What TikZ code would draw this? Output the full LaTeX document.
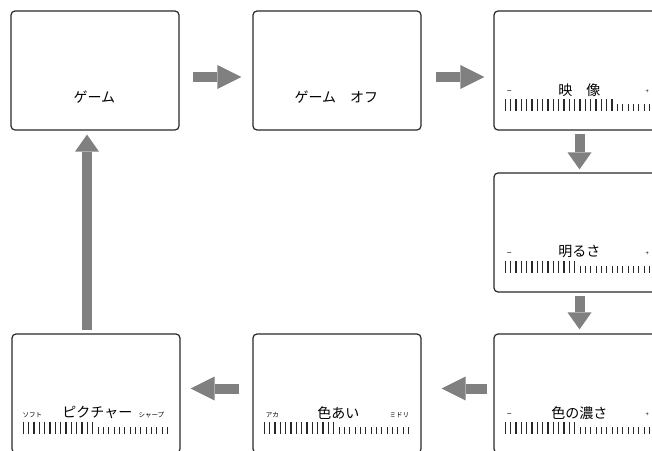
\documentclass[tikz,border=0pt]{standalone}
\usepackage{fontspec}
\setmainfont{Noto Sans CJK JP}
\usetikzlibrary{arrows.meta,calc}
\definecolor{arrowgray}{RGB}{128,128,128}
\definecolor{boxline}{RGB}{40,40,40}
\tikzset{
  pics/gauge/.style={code={
    \foreach \i in {0,...,27}{
      \ifnum\i<#1\relax
        \draw[line width=1.3pt,boxline] ({12+\i*5.33},88.5) -- ({12+\i*5.33},100.5);
      \else
        \draw[line width=0.8pt,boxline] ({12+\i*5.33},94) -- ({12+\i*5.33},100.5);
      \fi}
  }}
}
\begin{document}
\begin{tikzpicture}[x=1pt,y=-1pt,
  screen/.style={draw=boxline, line width=1.2pt, rounded corners=4pt, minimum width=168pt, minimum height=119pt, inner sep=0pt, fill=white},
  hblk/.style={draw=arrowgray, line width=10pt, -{Triangle[length=24pt,width=24pt,line width=0pt]}},
  vblk/.style={draw=arrowgray, line width=10pt, -{Triangle[length=17pt,width=24pt,line width=0pt]}},
  ttl/.style={font=\fontsize{14}{16}\selectfont, inner sep=0pt},
  sml/.style={font=\fontsize{6.5}{7.5}\selectfont, inner sep=0pt},
  minus/.style={font=\fontsize{9}{10}\selectfont, inner sep=0pt},
  plus/.style={font=\fontsize{6}{7}\selectfont, inner sep=0pt}
]
\useasboundingbox (0,0) rectangle (652,450);
\clip (0,0) rectangle (652,450);

% screens
\node[screen] (g1) at (95,70.5) {};
\node[screen] (g2) at (337,70.5) {};
\node[screen] (g3) at (578,70.5) {};
\node[screen] (g4) at (578,232.5) {};
\node[screen] (g5) at (578,393.5) {};
\node[screen] (g7) at (337,393.5) {};
\node[screen] (g6) at (96,393.5) {};

% titles
\node[ttl] (t1) at ($(g1.north west)+(84,87)$) {ゲーム};
\node[ttl] (t2) at ($(g2.north west)+(84,87)$) {ゲーム\hspace{1em}オフ};
\node[ttl] (t3) at ($(g3.north west)+(86,80)$) {映\hspace{1em}像};
\node[ttl] (t4) at ($(g4.north west)+(86,79.5)$) {明るさ};
\node[ttl] (t5) at ($(g5.north west)+(86,79.5)$) {色の濃さ};
\node[ttl] (t7) at ($(g7.north west)+(86,79.5)$) {色あい};
\node[ttl] (t6) at ($(g6.north west)+(86,79.5)$) {ピクチャー};

% scale end labels
\node[minus] (m3) at ($(g3.north west)+(16,82)$) {–};
\node[plus] (p3) at ($(g3.north west)+(154,81)$) {+};
\node[minus] (m4) at ($(g4.north west)+(16,82)$) {–};
\node[plus] (p4) at ($(g4.north west)+(154,81)$) {+};
\node[minus] (m5) at ($(g5.north west)+(16,82)$) {–};
\node[plus] (p5) at ($(g5.north west)+(154,81)$) {+};
\node[sml] (l7) at ($(g7.north west)+(20,82)$) {アカ};
\node[sml] (r7) at ($(g7.north west)+(147,82)$) {ミドリ};
\node[sml] (l6) at ($(g6.north west)+(21,82)$) {ソフト};
\node[sml] (r6) at ($(g6.north west)+(140,82)$) {シャープ};

% gauges
\pic at (g3.north west) {gauge=21};
\pic at (g4.north west) {gauge=14};
\pic at (g5.north west) {gauge=14};
\pic at (g7.north west) {gauge=14};
\pic at (g6.north west) {gauge=14};

% block arrows
\draw[hblk] ([shift={(13,6.5)}]g1.east) -- ([shift={(-11,6.5)}]g2.west);
\draw[hblk] ([shift={(14,6.5)}]g2.east) -- ([shift={(-9,6.5)}]g3.west);
\draw[vblk] ([shift={(1.5,3)}]g3.south) -- ([shift={(1.5,-3)}]g4.north);
\draw[vblk] ([shift={(1.5,3)}]g4.south) -- ([shift={(1.5,-4)}]g5.north);
\draw[hblk] ([shift={(-6,-5)}]g5.west) -- ([shift={(20,-5)}]g7.east);
\draw[hblk] ([shift={(-13,-5)}]g7.west) -- ([shift={(10,-5)}]g6.east);
\draw[vblk] ([shift={(-9,-3)}]g6.north) -- ([shift={(-8,4)}]g1.south);
\end{tikzpicture}
\end{document}
